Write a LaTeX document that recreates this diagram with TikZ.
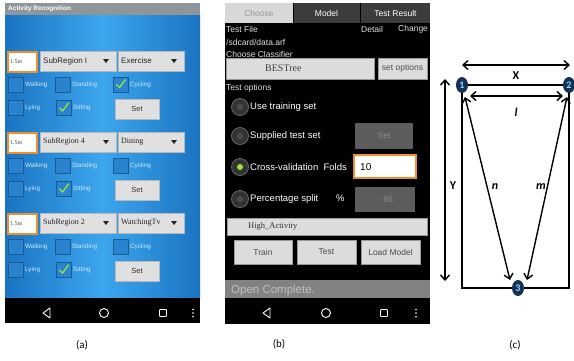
\documentclass[tikz,border=0pt]{standalone}
\usepackage{fontspec}
\setmainfont{Liberation Sans}
\newfontfamily\serifui{Liberation Serif}
\newfontfamily\calib{Carlito}
\usetikzlibrary{arrows.meta,shapes.geometric}
\definecolor{blueedge}{HTML}{1A74C2}
\definecolor{bluemid}{HTML}{3CA6EE}
\definecolor{titlegray}{HTML}{8E959B}
\definecolor{ddgray}{HTML}{E0E0E0}
\definecolor{ddborder}{HTML}{B8B8B8}
\definecolor{cbborder}{HTML}{1D5A92}
\definecolor{cbfill}{HTML}{2A83CF}
\definecolor{chkgreen}{HTML}{9BE23C}
\definecolor{fieldorange}{HTML}{F0902A}
\definecolor{cblabel}{HTML}{D4E8F8}
\definecolor{tablight}{HTML}{D8D8D8}
\definecolor{tabdark}{HTML}{3C3C3C}
\definecolor{btngray}{HTML}{DCDCDC}
\definecolor{disgray}{HTML}{5C5C5C}
\definecolor{statusgray}{HTML}{828282}
\definecolor{navynode}{HTML}{16305A}
\definecolor{nodetext}{HTML}{7FE0EE}
\tikzset{
  x=1pt, y=-1pt,
  field/.style={draw=fieldorange, line width=1.2pt, fill=white, minimum width=29, minimum height=20, inner sep=0},
  ddbox/.style={draw=ddborder, line width=0.4pt, fill=ddgray, minimum height=20, inner sep=0},
  cbox/.style={draw=cbborder, line width=0.8pt, fill=cbfill, minimum width=15, minimum height=15, inner sep=0},
  cblab/.style={anchor=west, text=cblabel, font=\fontsize{6.3}{6.3}\selectfont, inner sep=0},
  chk/.style={draw=chkgreen, line width=1.3pt, line cap=round, line join=round},
  setbtn/.style={draw=ddborder, fill=ddgray, minimum width=44, minimum height=20, inner sep=0, font=\fontsize{7.5}{7.5}\selectfont, text=black!80},
  ddtxt/.style={anchor=west, inner sep=0, text=black!85},
  navicon/.style={draw=white, line width=0.9pt},
  tab/.style={minimum height=20, inner sep=0, font=\fontsize{8.5}{8.5}\selectfont},
  btxt/.style={anchor=west, inner sep=0, text=white!88!black, font=\fontsize{8.5}{8.5}\selectfont},
  rtxt/.style={anchor=west, inner sep=0, text=white, font=\fontsize{9.5}{9.5}\selectfont},
  gbtn/.style={draw=black!40, fill=btngray, inner sep=0, text=black!70},
  radio/.style={circle, draw=black!60, line width=0.8pt, fill=black!80, minimum size=17, inner sep=0},
  rdot/.style={circle, fill=black!70, minimum size=6, inner sep=0},
  rdoton/.style={circle, fill=chkgreen, minimum size=6, inner sep=0},
  disbox/.style={fill=disgray, inner sep=0, text=black!45, font=\fontsize{8.5}{8.5}\selectfont},
  caption/.style={font=\calib\fontsize{11}{11}\selectfont, inner sep=0},
  numnode/.style={ellipse, fill=navynode, minimum width=12, minimum height=16, inner sep=0, text=nodetext, font=\calib\bfseries\fontsize{10}{10}\selectfont},
  frame/.style={draw=black, line width=1.3pt},
  dbl/.style={draw=black, line width=1.4pt, {Straight Barb[length=5pt,width=9pt]}-{Straight Barb[length=5pt,width=9pt]}},
  dimlab/.style={font=\calib\bfseries\fontsize{12}{12}\selectfont, inner sep=0},
  dimital/.style={font=\calib\bfseries\itshape\fontsize{12}{12}\selectfont, inner sep=0}
}
\begin{document}
\begin{tikzpicture}
\useasboundingbox (0,0) rectangle (574,360);
\fill[white] (0,0) rectangle (574,360);

% ================= Panel (a) =================
\fill[titlegray] (5,3) rectangle (200,15);
\node[anchor=west, inner sep=0, text=white, font=\bfseries\fontsize{6.5}{6.5}\selectfont] (atitle) at (8,9) {Activity Recognition};
\shade[left color=blueedge, right color=blueedge, middle color=bluemid] (5,15) rectangle (200,298);

\foreach \g/\o/\dda/\ddb/\fa/\fb/\cyc in {1/0/SubRegion I/Exercise/\relax/\relax/1,
                                         2/81/SubRegion 4/Dining/\serifui/\serifui/0,
                                         3/162/SubRegion 2/WatchingTv/\serifui/\serifui/0}{
  \node[field] (fld\g) at (22.5,62+\o) {};
  \node[anchor=west, inner sep=0, text=black!70, font=\serifui\fontsize{6}{6}\selectfont] (fldt\g) at (10,62+\o) {1.5m};
  \node[ddbox, minimum width=76] (dda\g) at (78,61+\o) {};
  \node[ddtxt, font=\fa\fontsize{8}{8}\selectfont] (ddat\g) at (43,61+\o) {\dda};
  \fill[black!85] (103,59+\o) -- (109,59+\o) -- (106,63+\o) -- cycle;
  \node[ddbox, minimum width=66] (ddb\g) at (151,61+\o) {};
  \node[ddtxt, font=\fb\fontsize{8}{8}\selectfont] (ddbt\g) at (121,61+\o) {\ddb};
  \fill[black!85] (171,59+\o) -- (177,59+\o) -- (174,63+\o) -- cycle;
  % checkboxes row 1
  \node[cbox] (cw\g) at (15.5,84.5+\o) {};
  \node[cblab] (cwl\g) at (25,84.5+\o) {Walking};
  \node[cbox] (cs\g) at (62.5,84.5+\o) {};
  \node[cblab] (csl\g) at (72,84.5+\o) {Standing};
  \node[cbox] (cc\g) at (120.5,84.5+\o) {};
  \node[cblab] (ccl\g) at (130,84.5+\o) {Cycling};
  % row 2
  \node[cbox] (cl\g) at (15.5,108+\o) {};
  \node[cblab] (cll\g) at (25,108+\o) {Lying};
  \node[cbox] (ct\g) at (63.5,108+\o) {};
  \node[cblab] (ctl\g) at (73,108+\o) {Sitting};
  \draw[chk] ([shift={(-4,0)}]ct\g.center) -- ++(3,3) -- ++(6,-8);
  \ifnum\cyc=1 \draw[chk] ([shift={(-4,0)}]cc\g.center) -- ++(3,3) -- ++(6,-8); \fi
  \node[setbtn] (set\g) at (137,109+\o) {Set};
}
% nav bar (a)
\fill[black] (5,298) rectangle (200,323);
\draw[navicon, line join=round] (50,308) -- (50,318) -- (43,313) -- cycle;
\draw[navicon] (104,313) circle (4.5);
\draw[navicon, rounded corners=0.8] (159.5,309.5) rectangle (166.5,316.5);
\foreach \yy in {309.5,313,316.5} \fill[white] (193,\yy) circle (0.8);
\node[caption] (capa) at (82,345) {(a)};

% ================= Panel (b) =================
\fill[black] (225,3) rectangle (430,324);
\node[tab, fill=tablight, minimum width=68, text=black!40] (tab1) at (259,13) {Choose};
\node[tab, fill=tabdark, minimum width=66, text=white] (tab2) at (326.5,13) {Model};
\node[tab, fill=tabdark, minimum width=69, text=white] (tab3) at (395.5,13) {Test Result};
\draw[black, line width=0.8pt] (293,3) -- (293,23) (360,3) -- (360,23);
\node[btxt] (tfile) at (226,29) {Test File};
\node[btxt] (tdet) at (361,29) {Detail};
\node[btxt] (tchg) at (398,29) {Change};
\node[btxt] (tpath) at (226,42) {/sdcard/data.arf};
\node[btxt] (tcc) at (226,54) {Choose Classifier};
\node[btxt] (topt) at (226,88) {Test options};
\node[gbtn, minimum width=148, minimum height=21] (best) at (300,68.5) {};
\node[anchor=west, inner sep=0, font=\serifui\fontsize{10}{10}\selectfont, text=black!75] (bestt) at (265,68.5) {BESTree};
\node[gbtn, minimum width=49, minimum height=21, font=\fontsize{8.5}{8.5}\selectfont] (sopt) at (402.5,68.5) {set options};
% radios
\node[radio] (r1) at (240,107) {};
\node[rdot] at (r1) {};
\node[rtxt] (r1t) at (250,107) {Use training set};
\node[radio] (r2) at (240,136) {};
\node[rdot] at (r2) {};
\node[rtxt] (r2t) at (250,136) {Supplied test set};
\node[disbox, minimum width=58, minimum height=26] (sset) at (384,136) {Set};
\node[radio] (r3) at (240,167) {};
\node[rdoton] at (r3) {};
\node[rtxt] (r3t) at (250,167) {Cross-validation\ \ Folds};
\node[field, minimum width=62, minimum height=23] (folds) at (385,166.5) {};
\node[anchor=west, inner sep=0, font=\fontsize{10}{10}\selectfont] (foldst) at (360,167) {10};
\node[radio] (r4) at (240,199) {};
\node[rdot] at (r4) {};
\node[rtxt] (r4t) at (250,199) {Percentage split};
\node[rtxt] (pct) at (336,198) {\%};
\node[disbox, minimum width=60, minimum height=25, anchor=west, text depth=0pt] (pbox) at (355,199.5) {\hspace*{6pt}66};
% high activity bar
\node[gbtn, minimum width=200, minimum height=17] (hbar) at (327,226.5) {};
\node[anchor=west, inner sep=0, font=\serifui\fontsize{8.5}{8.5}\selectfont, text=black!80] (hbart) at (248,226.5) {High\_Activity};
\node[gbtn, minimum width=58, minimum height=24, font=\fontsize{8.5}{8.5}\selectfont] (train) at (263,252) {Train};
\node[gbtn, minimum width=59, minimum height=24, font=\fontsize{8.5}{8.5}\selectfont] (test) at (326.5,252) {Test};
\node[gbtn, minimum width=59, minimum height=24, font=\fontsize{8.5}{8.5}\selectfont] (load) at (390.5,252) {Load Model};
% status
\fill[statusgray] (225,280) rectangle (430,298);
\node[anchor=west, inner sep=0, text=black!25, font=\fontsize{11.5}{11.5}\selectfont] (status) at (231,291) {Open Complete.};
% nav (b)
\draw[navicon, line join=round] (270,308) -- (270,318) -- (263,313) -- cycle;
\draw[navicon] (326,313) circle (4.5);
\draw[navicon, rounded corners=0.8] (380.5,309.5) rectangle (387.5,316.5);
\foreach \yy in {309.5,313,316.5} \fill[white] (416,\yy) circle (0.8);
\node[caption] (capb) at (279,344) {(b)};

% ================= Panel (c) =================
\node[numnode] (n1) at (462,85) {1};
\node[numnode] (n2) at (569,85) {2};
\node[numnode] (n3) at (518,288) {3};
\draw[frame] (n1) -- (n2);
\draw[frame] (n1) |- (n3);
\draw[frame] (n2) |- (n3);
\coordinate (xa) at (462,65);
\coordinate (xb) at (570,65);
\draw[dbl] (xa) -- (xb);
\node[dimlab] (xl) at (516,76) {X};
\coordinate (la) at (470,96);
\coordinate (lb) at (563,96);
\draw[dbl] (la) -- (lb);
\node[dimital] (ll) at (516,112) {l};
\coordinate (ya) at (445,79);
\coordinate (yb) at (445,281);
\draw[dbl] (ya) -- (yb);
\node[dimlab] (yl) at (453,186) {Y};
\coordinate (na) at (465,97);
\coordinate (nb) at (510,280);
\draw[dbl] (na) -- (nb);
\node[dimital] (nl) at (495,187) {n};
\coordinate (ma) at (567,97);
\coordinate (mb) at (527,280);
\draw[dbl] (ma) -- (mb);
\node[dimital] (ml) at (541,187) {m};
\node[caption] (capc) at (515,345) {(c)};
\end{tikzpicture}
\end{document}
